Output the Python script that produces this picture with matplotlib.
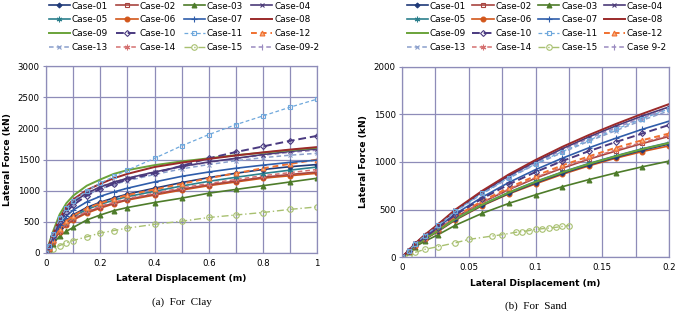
import matplotlib
matplotlib.use("Agg")
import matplotlib.pyplot as plt
from matplotlib.lines import Line2D

# ---------------- data ----------------
case_names = ["Case-01", "Case-02", "Case-03", "Case-04", "Case-05", "Case-06", "Case-07", "Case-08",
              "Case-09", "Case-10", "Case-11", "Case-12", "Case-13", "Case-14", "Case-15", "Case-09-2"]
sand_names = case_names[:-1] + ["Case 9-2"]

clay_x = [0, 0.01, 0.025, 0.05, 0.075, 0.1, 0.15, 0.2, 0.25, 0.3, 0.4, 0.5, 0.6, 0.7, 0.8, 0.9, 1.0]
clay_y = {
    "Case-01": [0, 85, 215, 400, 525, 615, 730, 815, 885, 945, 1040, 1130, 1210, 1280, 1340, 1385, 1420],
    "Case-02": [0, 70, 185, 350, 460, 545, 655, 735, 800, 860, 945, 1025, 1095, 1155, 1215, 1260, 1300],
    "Case-03": [0, 60, 150, 270, 350, 410, 530, 610, 680, 730, 810, 880, 960, 1020, 1080, 1140, 1200],
    "Case-04": [0, 110, 285, 530, 700, 815, 960, 1060, 1135, 1200, 1300, 1390, 1460, 1520, 1580, 1630, 1670],
    "Case-05": [0, 80, 200, 380, 500, 585, 700, 780, 850, 905, 990, 1075, 1150, 1215, 1275, 1330, 1380],
    "Case-06": [0, 70, 180, 340, 450, 530, 640, 720, 790, 850, 930, 1010, 1080, 1140, 1200, 1240, 1280],
    "Case-07": [0, 95, 240, 450, 590, 690, 820, 910, 980, 1040, 1140, 1230, 1300, 1360, 1410, 1455, 1490],
    "Case-08": [0, 120, 300, 560, 740, 860, 1010, 1110, 1200, 1270, 1380, 1450, 1510, 1565, 1615, 1660, 1700],
    "Case-09": [0, 140, 340, 620, 800, 920, 1080, 1180, 1270, 1330, 1410, 1470, 1520, 1570, 1610, 1650, 1690],
    "Case-10": [0, 105, 270, 500, 660, 770, 920, 1030, 1110, 1180, 1280, 1400, 1520, 1620, 1710, 1800, 1880],
    "Case-11": [0, 120, 300, 560, 720, 840, 1000, 1120, 1230, 1330, 1520, 1720, 1900, 2060, 2200, 2340, 2470],
    "Case-12": [0, 80, 205, 390, 510, 600, 715, 800, 870, 930, 1020, 1110, 1200, 1280, 1360, 1430, 1500],
    "Case-13": [0, 110, 280, 520, 680, 790, 930, 1030, 1100, 1160, 1260, 1350, 1420, 1480, 1530, 1570, 1600],
    "Case-14": [0, 75, 190, 360, 475, 560, 670, 750, 815, 875, 960, 1045, 1115, 1180, 1240, 1290, 1340],
    "Case-15": [0, 25, 60, 120, 165, 200, 260, 320, 360, 400, 460, 510, 570, 610, 650, 700, 740],
    "Case-09-2": [0, 115, 290, 540, 710, 820, 965, 1065, 1140, 1200, 1300, 1385, 1455, 1515, 1570, 1615, 1650],
}

sand_x = [0, 0.005, 0.01, 0.017, 0.027, 0.04, 0.06, 0.08, 0.1, 0.12, 0.14, 0.16, 0.18, 0.2]
sand_y = {
    "Case-01": [0, 60, 120, 190, 275, 395, 545, 670, 780, 880, 970, 1050, 1125, 1190],
    "Case-02": [0, 62, 125, 198, 290, 418, 575, 710, 830, 935, 1030, 1115, 1195, 1270],
    "Case-03": [0, 55, 110, 165, 235, 335, 460, 565, 655, 740, 815, 885, 950, 1010],
    "Case-04": [0, 70, 143, 230, 340, 492, 685, 855, 1005, 1140, 1265, 1380, 1485, 1580],
    "Case-05": [0, 60, 122, 192, 280, 402, 553, 682, 795, 895, 985, 1065, 1140, 1205],
    "Case-06": [0, 60, 120, 185, 270, 390, 540, 665, 770, 870, 960, 1040, 1110, 1170],
    "Case-07": [0, 66, 134, 215, 315, 455, 630, 785, 920, 1040, 1150, 1250, 1345, 1430],
    "Case-08": [0, 71, 145, 233, 345, 500, 697, 870, 1022, 1160, 1285, 1400, 1508, 1610],
    "Case-09": [0, 60, 120, 190, 278, 400, 550, 678, 790, 890, 980, 1060, 1135, 1200],
    "Case-10": [0, 65, 132, 210, 308, 445, 615, 765, 895, 1010, 1115, 1210, 1300, 1390],
    "Case-11": [0, 68, 140, 225, 332, 482, 670, 835, 980, 1110, 1230, 1345, 1455, 1560],
    "Case-12": [0, 63, 128, 203, 297, 428, 590, 730, 855, 965, 1060, 1150, 1230, 1300],
    "Case-13": [0, 68, 140, 225, 330, 480, 665, 830, 975, 1100, 1220, 1330, 1440, 1540],
    "Case-14": [0, 62, 126, 200, 292, 420, 580, 716, 838, 945, 1040, 1127, 1207, 1282],
    "Case-09-2": [0, 69, 142, 228, 336, 488, 678, 845, 993, 1125, 1248, 1360, 1465, 1565],
}
sand15_x = [0, 0.005, 0.01, 0.017, 0.027, 0.04, 0.05, 0.067, 0.075, 0.085, 0.09, 0.095, 0.1, 0.105, 0.11, 0.115, 0.12, 0.125]
sand15_y = [0, 25, 50, 80, 110, 150, 185, 220, 235, 260, 268, 278, 290, 298, 305, 312, 322, 330]

clay_xticks = [0, 0.2, 0.4, 0.6, 0.8, 1]
clay_xticklabels = ["0", "0.2", "0.4", "0.6", "0.8", "1"]
clay_yticks = [0, 500, 1000, 1500, 2000, 2500, 3000]
sand_xticks = [0, 0.05, 0.1, 0.15, 0.2]
sand_xticklabels = ["0", "0.05", "0.1", "0.15", "0.2"]
sand_yticks = [0, 500, 1000, 1500, 2000]

# ---------------- styles ----------------
styles = {
    "Case-01": dict(color="#1F3A78", ls="-", marker="D", ms=2.5, mfc="#1F3A78", lw=1.2),
    "Case-02": dict(color="#A8443F", ls="-", marker="s", ms=3, mfc="none", lw=1.2),
    "Case-03": dict(color="#4E7C2A", ls="-", marker="^", ms=3.5, mfc="#4E7C2A", lw=1.2),
    "Case-04": dict(color="#4B3B78", ls="-", marker="x", ms=3.5, mfc="none", lw=1.2),
    "Case-05": dict(color="#2B7F8C", ls="-", marker=(6, 2, 0), ms=4, mfc="none", lw=1.2),
    "Case-06": dict(color="#D2561A", ls="-", marker="o", ms=3.5, mfc="#D2561A", lw=1.2),
    "Case-07": dict(color="#2F5DAA", ls="-", marker="+", ms=4, mfc="none", lw=1.2),
    "Case-08": dict(color="#9B2A2A", ls="-", marker="None", ms=0, mfc="none", lw=1.4),
    "Case-09": dict(color="#6AA33A", ls="-", marker="None", ms=0, mfc="none", lw=1.4),
    "Case-10": dict(color="#4A3A80", ls=(0, (4, 2)), marker="D", ms=3, mfc="none", lw=1.4),
    "Case-11": dict(color="#6FA8DC", ls=(0, (3, 2)), marker="s", ms=3, mfc="none", lw=0.9),
    "Case-12": dict(color="#F07030", ls=(0, (3, 2)), marker="^", ms=3.5, mfc="#F9B080", lw=1.4),
    "Case-13": dict(color="#8A9FCC", ls=(0, (3, 2)), marker="x", ms=3.5, mfc="none", lw=1.1),
    "Case-14": dict(color="#D47070", ls=(0, (3, 2)), marker=(6, 2, 0), ms=4, mfc="none", lw=1.1),
    "Case-15": dict(color="#A8C070", ls=(0, (5, 2, 1, 2)), marker="o", ms=4, mfc="none", lw=1.0),
    "Case-09-2": dict(color="#9A8AC0", ls=(0, (3, 2)), marker="|", ms=4, mfc="none", lw=1.1),
}

GRID = "#8E8CB8"
plt.rcParams["font.family"] = ["DejaVu Sans"]

fig = plt.figure(figsize=(6.78, 3.11), dpi=100)
axL = fig.add_axes([0.068, 0.1865, 0.3997, 0.601])
axR = fig.add_axes([0.593, 0.1736, 0.394, 0.611])

draw_order = ["Case-15", "Case-03", "Case-06", "Case-02", "Case-14", "Case-05", "Case-01", "Case-12",
              "Case-07", "Case-13", "Case-09-2", "Case-04", "Case-09", "Case-10", "Case-08", "Case-11"]

for name in draw_order:
    st = styles[name]
    axL.plot(clay_x, clay_y[name], color=st["color"], ls=st["ls"], lw=st["lw"], marker=st["marker"],
             ms=st["ms"], mfc=st["mfc"], mec=st["color"], mew=0.8)
    if name == "Case-15":
        xs, ys = sand15_x, sand15_y
    else:
        xs, ys = sand_x, sand_y[name]
    axR.plot(xs, ys, color=st["color"], ls=st["ls"], lw=st["lw"], marker=st["marker"],
             ms=st["ms"], mfc=st["mfc"], mec=st["color"], mew=0.8)

def style_axes(ax, xlim, ylim, xgrid, yticks, xticks, xticklabels):
    ax.set_xlim(*xlim)
    ax.set_ylim(*ylim)
    ax.set_xticks(xticks)
    ax.set_xticklabels(xticklabels)
    ax.set_yticks(yticks)
    for g in xgrid:
        ax.axvline(g, color=GRID, lw=0.9, zorder=0)
    for g in yticks:
        ax.axhline(g, color=GRID, lw=0.9, zorder=0)
    for s in ax.spines.values():
        s.set_color(GRID)
        s.set_linewidth(0.9)
    ax.tick_params(axis="both", labelsize=6.2, length=2.5, color=GRID, pad=2)
    ax.tick_params(axis="x", length=0, pad=4)
    ax.set_xlabel("Lateral Displacement (m)", fontsize=6.6, fontweight="bold", labelpad=5)
    ax.set_ylabel("Lateral Force (kN)", fontsize=6.6, fontweight="bold", labelpad=4)

style_axes(axL, (0, 1), (0, 3000), [i / 10 for i in range(11)], clay_yticks, clay_xticks, clay_xticklabels)
style_axes(axR, (0, 0.2), (0, 2000), [i * 0.025 for i in range(9)], sand_yticks, sand_xticks, sand_xticklabels)

def make_handles(names):
    hs = []
    for key, lab in zip(case_names, names):
        st = styles[key]
        hs.append(Line2D([], [], color=st["color"], ls=st["ls"], lw=st["lw"], marker=st["marker"],
                         ms=st["ms"], mfc=st["mfc"], mec=st["color"], mew=0.8, label=lab))
    # reorder so the 4-column legend reads row by row
    return [hs[i * 4 + j] for j in range(4) for i in range(4)]

leg_kw = dict(ncol=4, frameon=False, fontsize=6.4, handlelength=2.4, handletextpad=0.2,
              labelspacing=0.55, borderpad=0, borderaxespad=0)
fig.legend(handles=make_handles(case_names), loc="upper left", bbox_to_anchor=(0.072, 0.995),
           columnspacing=0.9, **leg_kw)
fig.legend(handles=make_handles(sand_names), loc="upper left", bbox_to_anchor=(0.600, 0.995),
           columnspacing=0.7, **leg_kw)

fig.text(0.268, 0.012, "(a)  For  Clay", ha="center", va="bottom", fontsize=8,
         family=["Liberation Serif", "DejaVu Serif"])
fig.text(0.790, 0.0, "(b)  For  Sand", ha="center", va="bottom", fontsize=8,
         family=["Liberation Serif", "DejaVu Serif"])

fig.savefig("out.png", dpi=100)
